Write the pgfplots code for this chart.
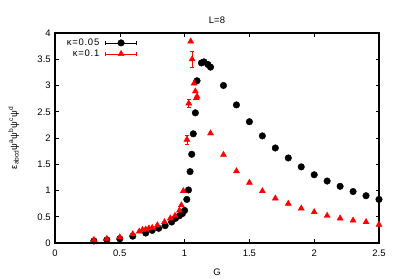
\documentclass[border=0pt]{standalone}
\usepackage{pgfplots}
\pgfplotsset{compat=1.18}
\usepackage{pgfplotstable}
\usepackage{fontspec}
\setmainfont{Liberation Sans}
\newfontfamily\legfont[LetterSpace=8]{Liberation Sans}
\pgfplotstableread{
x y e
0.3 0.04 0
0.4 0.06 0
0.5 0.08 0
0.6 0.13 0
0.7 0.19 0
0.75 0.24 0
0.8 0.28 0
0.85 0.33 0
0.9 0.40 0
0.93 0.47 0
0.96 0.52 0
0.983 0.56 0
1.0 0.62 0
1.017 0.83 0
1.03 1.01 0
1.042 1.36 0
1.055 1.69 0
1.067 2.08 0
1.083 2.48 0
1.096 3.09 0
1.13 3.43 0
1.15 3.45 0
1.18 3.40 0
1.2 3.35 0
1.3 3.00 0
1.4 2.63 0
1.5 2.31 0
1.6 2.04 0
1.7 1.81 0
1.8 1.62 0
1.9 1.45 0
2.0 1.30 0
2.1 1.18 0
2.2 1.08 0
2.3 0.98 0
2.4 0.90 0
2.5 0.83 0
}\kaa
\pgfplotstableread{
x y e
0.3 0.06 0
0.4 0.08 0
0.5 0.11 0
0.6 0.17 0
0.65 0.22 0
0.675 0.25 0
0.7 0.26 0
0.725 0.28 0
0.75 0.29 0
0.79 0.34 0
0.845 0.40 0
0.89 0.47 0
0.926 0.52 0
0.96 0.62 0
0.975 0.72 0
0.99 0.99 0
1.018 1.97 0.09
1.032 2.66 0.08
1.047 3.84 0
1.058 3.50 0.16
1.073 3.04 0
1.083 2.89 0
1.09 2.76 0
1.096 2.79 0
1.2 2.09 0
1.3 1.68 0
1.4 1.37 0
1.5 1.15 0
1.6 0.99 0
1.7 0.85 0
1.8 0.75 0
1.9 0.66 0
2.0 0.59 0
2.1 0.52 0
2.2 0.47 0
2.3 0.43 0
2.4 0.40 0
2.5 0.35 0
}\kab
\begin{document}
\fontsize{9.5}{11}\selectfont
\begin{tikzpicture}
\useasboundingbox (0,0) rectangle (399bp,279bp);
\begin{axis}[
  at={(55bp,36bp)}, anchor=south west,
  scale only axis, width=324bp, height=210bp,
  xmin=0, xmax=2.5, ymin=0, ymax=4,
  xtick={0,0.5,1,1.5,2,2.5},
  ytick={0,0.5,1,1.5,2,2.5,3,3.5,4},
  tick align=inside,
  major tick length=3.5bp,
  tick style={black, line width=0.6bp},
  axis line style={black, line width=1.2bp},
  /pgf/number format/assume math mode=true,
  /pgf/number format/fixed,
  ticklabel style={font=\fontsize{9.5}{11}\selectfont},
  xticklabel style={yshift=-4bp},
  yticklabel style={xshift=-1bp},
  title={L=8},
  title style={font=\fontsize{9.5}{11}\selectfont, yshift=0bp},
  xlabel={G},
  xlabel style={font=\fontsize{9.5}{11}\selectfont, yshift=-5bp},
  ylabel={ε\textsubscript{abcd}ψ\textsuperscript{a}ψ\textsuperscript{b}ψ\textsuperscript{c}ψ\textsuperscript{d}},
  ylabel style={font=\fontsize{9.5}{11}\selectfont, yshift=12bp},
  legend plot pos=right,
  legend cell align=right,
  legend style={draw=none, fill=none, at={(rel axis cs:0.253,0.98)}, anchor=north east,
    font=\legfont\fontsize{9.5}{11}\selectfont, inner sep=0pt, row sep=0bp,
    /tikz/every odd column/.append style={column sep=5bp},
    nodes={inner sep=1bp, text height=7bp, text depth=2bp}},
  legend image code/.code={
    \draw[#1, mark=none] (0bp,0bp) -- (31bp,0bp);
    \draw[#1, mark=none] (0bp,-1.8bp) -- (0bp,1.8bp);
    \draw[#1, mark=none] (31bp,-1.8bp) -- (31bp,1.8bp);
    \draw[#1] plot[only marks] coordinates {(15.5bp,0bp)};
  },
]
\addplot[only marks, mark=*, mark size=3.3bp, black,
  error bars/.cd, y dir=both, y explicit, error mark options={rotate=90, mark size=1.8bp, line width=0.6bp}]
  table[x=x, y=y, y error=e] {\kaa};
\addlegendentry[line width=0.8bp]{κ=0.05}
\addplot[only marks, mark=triangle*, mark size=3.5bp, red,
  error bars/.cd, y dir=both, y explicit, error bar style={line width=0.7bp}, error mark options={rotate=90, mark size=1.8bp, line width=0.7bp}]
  table[x=x, y=y, y error=e] {\kab};
\addlegendentry[line width=0.6bp]{κ=0.1}
\end{axis}
\end{tikzpicture}
\end{document}
